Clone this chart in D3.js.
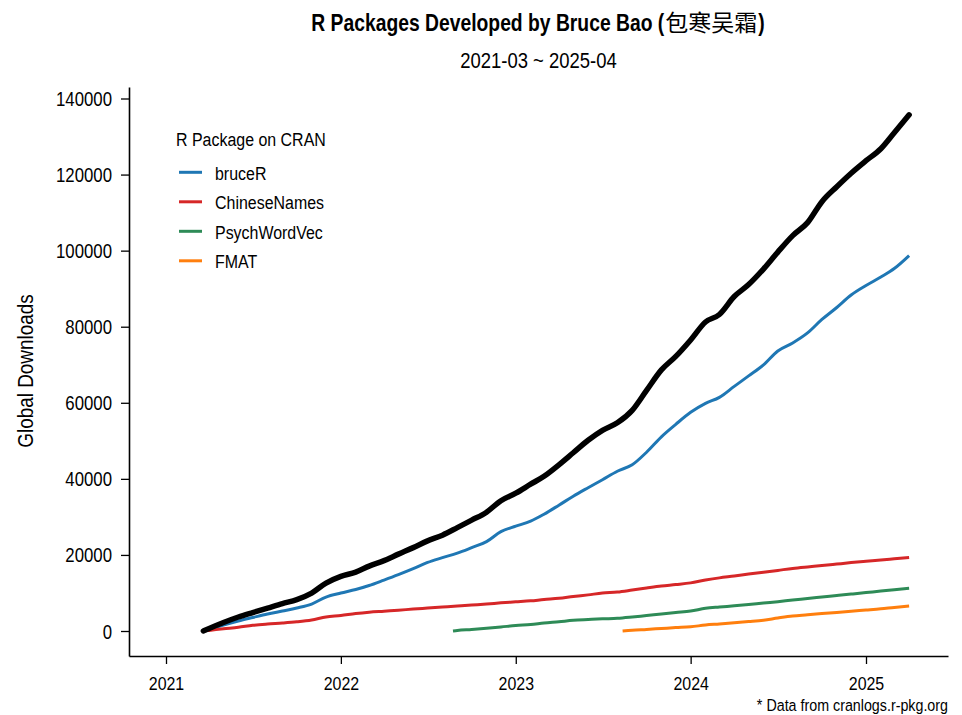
<!DOCTYPE html>
<html>
<head>
<meta charset="utf-8">
<script src="https://cdn.jsdelivr.net/npm/d3@7"></script>
<style>
  html, body { margin: 0; padding: 0; background: #fff; }
  svg text { font-family: "Liberation Sans", Arial, sans-serif; fill: #000; }
</style>
</head>
<body>
<svg id="chart" width="962" height="715"></svg>
<script>
// ---------------- data ----------------
const titleLatin = "R Packages Developed by Bruce Bao (";
const titleCJK = "包寒吴霜";
const titleClose = ")";
const chartSubtitle = "2021-03 ~ 2025-04";
const yAxisTitle = "Global Downloads";
const legendTitle = "R Package on CRAN";
const caption = "* Data from cranlogs.r-pkg.org";

const yearTicks = ["2021", "2022", "2023", "2024", "2025"];
const yTicks = [0, 20000, 40000, 60000, 80000, 100000, 120000, 140000];

const months = [
  "2021-04-01","2021-05-01","2021-06-01","2021-07-01","2021-08-01","2021-09-01","2021-10-01","2021-11-01","2021-12-01",
  "2022-01-01","2022-02-01","2022-03-01","2022-04-01","2022-05-01","2022-06-01","2022-07-01","2022-08-01","2022-09-01","2022-10-01","2022-11-01","2022-12-01",
  "2023-01-01","2023-02-01","2023-03-01","2023-04-01","2023-05-01","2023-06-01","2023-07-01","2023-08-01","2023-09-01","2023-10-01","2023-11-01","2023-12-01",
  "2024-01-01","2024-02-01","2024-03-01","2024-04-01","2024-05-01","2024-06-01","2024-07-01","2024-08-01","2024-09-01","2024-10-01","2024-11-01","2024-12-01",
  "2025-01-01","2025-02-01","2025-03-01","2025-04-01"
];

const packages = ["bruceR", "ChineseNames", "PsychWordVec", "FMAT"];
const packageStart = ["2021-03-20", "2021-03-20", "2022-08-23", "2023-08-12"];

// cumulative downloads at the start of each month (after release)
const bruceR = [
  450,1575,2625,3540,4460,5250,6040,7090,8925,
  9975,10900,11950,13390,14830,16400,18030,19290,20475,21920,23500,26120,
  27560,28875,30710,33075,35440,37670,39770,42000,43700,47000,51060,54340,
  57490,59850,61425,64310,67070,69960,73630,75730,78360,81900,85050,88330,
  90825,93060,95290,98700
];
const ChineseNames = [
  160,580,970,1500,1840,2100,2415,2890,3675,
  4070,4590,4935,5200,5460,5775,6040,6300,6560,6825,7090,7400,
  7665,7930,8270,8580,9060,9500,9975,10240,10760,11290,11810,12200,
  12650,13390,13965,14440,14960,15435,15930,16460,16850,17190,17590,17980,
  18320,18640,18980,19350
];
const PsychWordVec = [
  130,390,710,1050,
  1440,1700,2100,2440,2810,3020,3200,3330,3675,4070,4460,4860,
  5250,5960,6300,6615,6960,7350,7720,8140,8530,8925,9320,9710,
  10110,10500,10870,11210
];
const FMAT = [
  210,420,660,890,
  1100,1575,1840,2150,2470,2835,3410,3940,4250,4570,4880,5200,
  5510,5830,6195,6560
];
const totalStart = "2021-03-20";
const total = [
  660,2230,3675,4860,6040,7220,8270,9975,12600,
  14360,15490,17060,18500,20210,21920,23700,25200,27170,29140,31240,34260,
  36225,38590,40690,43700,46860,50140,52760,54730,58010,63260,68640,72190,
  76520,81240,83210,87940,91090,95160,99620,103950,107360,112880,116810,120360,
  123640,126790,130990,135710
];

const packageValues = [bruceR, ChineseNames, PsychWordVec, FMAT];
const packageColors = ["#1f77b4", "#d62728", "#2e8b57", "#ff7f0e"];
const totalColor = "#000000";

// ---------------- chart ----------------
const parse = d3.timeParse("%Y-%m-%d");
const svg = d3.select("#chart");
const F = 0.84; // horizontal condensing to mimic a narrow sans face

const plotLeft = 129, plotRight = 948, plotTop = 87, plotBottom = 656;

const x0 = d3.scaleTime()
  .domain([parse("2021-01-01"), parse("2025-01-01")])
  .range([166, 866]);
const x = d3.scaleTime()
  .domain([x0.invert(plotLeft), x0.invert(plotRight)])
  .range([plotLeft, plotRight]);

const y0 = d3.scaleLinear().domain([0, 140000]).range([631, 98.5]);
const y = d3.scaleLinear()
  .domain([y0.invert(plotBottom), y0.invert(plotTop)])
  .range([plotBottom, plotTop]);

function buildSeries(start, values) {
  const ds = [start].concat(months.slice(months.length - values.length));
  const vs = [0].concat(values);
  return ds.map((d, i) => ({ date: parse(d), value: vs[i] }));
}

const line = d3.line()
  .x(d => x(d.date))
  .y(d => y(d.value))
  .curve(d3.curveMonotoneX);

function condText(parent, px, py, str, size, opts = {}) {
  const rot = opts.rotate ? ` rotate(${opts.rotate})` : "";
  return parent.append("text")
    .attr("transform", `translate(${px},${py})${rot} scale(${F},1)`)
    .attr("text-anchor", opts.anchor || "start")
    .style("font-size", size + "px")
    .style("font-weight", opts.weight || "normal")
    .text(str);
}

// axes
const xAxis = d3.axisBottom(x)
  .tickValues(yearTicks.map(t => parse(t + "-01-01")))
  .tickFormat(d3.timeFormat("%Y"))
  .tickSizeInner(8).tickSizeOuter(0).tickPadding(0);
const gx = svg.append("g").attr("transform", `translate(0,${plotBottom})`).call(xAxis);
gx.selectAll(".tick text")
  .attr("y", null).attr("dy", null)
  .attr("transform", `translate(0,34) scale(${F},1)`)
  .style("font-size", "19px");

const yAxis = d3.axisLeft(y)
  .tickValues(yTicks)
  .tickFormat(d3.format("d"))
  .tickSizeInner(8).tickSizeOuter(0).tickPadding(0);
const gy = svg.append("g").attr("transform", `translate(${plotLeft},0)`).call(yAxis);
gy.selectAll(".tick text")
  .attr("x", null).attr("dy", null)
  .attr("transform", `translate(-17,7) scale(${F},1)`)
  .style("font-size", "20px");

[gx, gy].forEach(g => {
  g.selectAll("path.domain").attr("stroke", "#000").attr("stroke-width", 1.6);
  g.selectAll(".tick line").attr("stroke", "#000").attr("stroke-width", 1.3);
  g.selectAll(".tick text").attr("fill", "#000").style("font-family", '"Liberation Sans", Arial, sans-serif');
});

// package lines
packages.forEach((p, i) => {
  svg.append("path")
    .datum(buildSeries(packageStart[i], packageValues[i]))
    .attr("fill", "none")
    .attr("stroke", packageColors[i])
    .attr("stroke-width", 3)
    .attr("stroke-linejoin", "round")
    .attr("d", line);
});

// total line
svg.append("path")
  .datum(buildSeries(totalStart, total))
  .attr("fill", "none")
  .attr("stroke", totalColor)
  .attr("stroke-width", 5.5)
  .attr("stroke-linejoin", "round")
  .attr("stroke-linecap", "round")
  .attr("d", line);

// title (latin part condensed bold, CJK part regular)
const gt = svg.append("g");
const t1 = condText(gt, 0, 31, titleLatin, 23, { weight: "bold" });
const w1 = t1.node().getComputedTextLength() * F;
const t2 = gt.append("text").attr("x", w1 + 1).attr("y", 31)
  .style("font-family", '"Noto Sans CJK SC", sans-serif').style("font-size", "23px")
  .text(titleCJK);
const w2 = t2.node().getComputedTextLength();
const t3 = condText(gt, w1 + 2 + w2, 31, titleClose, 23, { weight: "bold" });
const w3 = t3.node().getComputedTextLength() * F;
const totalW = w1 + 2 + w2 + w3;
gt.attr("transform", `translate(${538 - totalW / 2},0)`);

condText(svg, 538.5, 68, chartSubtitle, 22, { anchor: "middle" });

condText(svg, 33, 371, yAxisTitle, 22.5, { anchor: "middle", rotate: -90 });

condText(svg, 948, 711, caption, 17, { anchor: "end" });

// legend
const legend = svg.append("g");
condText(legend, 176, 146, legendTitle, 19);
packages.forEach((p, i) => {
  const ly = 172.3 + i * 29.5;
  legend.append("line")
    .attr("x1", 179).attr("x2", 202).attr("y1", ly).attr("y2", ly)
    .attr("stroke", packageColors[i]).attr("stroke-width", 3);
  condText(legend, 215, ly + 7.5, p, 19);
});
</script>
</body>
</html>
